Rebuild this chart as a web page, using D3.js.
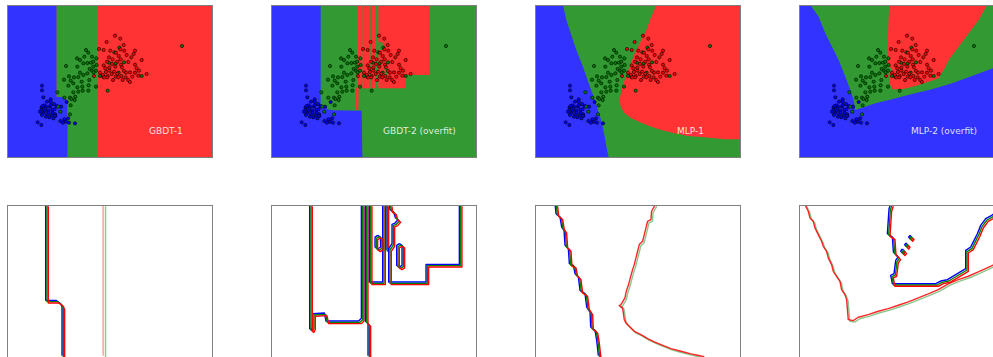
<!DOCTYPE html>
<html lang="en">
<head>
<meta charset="UTF-8">
<title>Decision boundaries: GBDT vs MLP</title>
<script src="https://d3js.org/d3.v7.min.js"></script>
<style>
  body { margin: 0; background: #fff; }
  .frame { fill: none; stroke: #808080; stroke-width: 1; }
  .label { font-family: "DejaVu Sans", sans-serif; font-size: 9px; fill: #fff; fill-opacity: 0.85; }
  .pt { stroke: #000; stroke-width: 0.6; }
  .contour { fill: none; stroke-width: 1.4; stroke-linejoin: round; }
</style>
</head>
<body>
<script>
// feature space: x 0..615, y 0..456 (same for every panel)
const xDomain = [0, 615];
const yDomain = [0, 456];

const models = ["GBDT-1", "GBDT-2 (overfit)", "MLP-1", "MLP-2 (overfit)"];
const labelX = [426, 336, 426, 336];
const labelY = 70;

// class index: 0 blue, 1 green, 2 red
const bluePoints = [
  [105,214],[105,200],[109,179],[131,173],[120,166],[131,166],[112,155],[104,149],[118,151],[129,151],
  [141,159],[103,141],[113,139],[124,139],[136,141],[143,144],[109,131],[121,129],[134,126],[144,128],
  [117,121],[127,119],[105,126],[92,104],[103,96],[160,108],[172,113],[168,103],[183,116],[177,106],
  [186,103],[204,101],[162,151],[149,153],[145,123],[139,116],[107,153],[115,145],[125,133],[137,133],
  [99,136],[131,155],[179,165]
];
const greenPoints = [
  [237,321],[244,313],[232,301],[255,301],[268,296],[210,296],[252,283],[241,282],[229,281],[259,286],
  [269,276],[177,273],[211,271],[248,264],[255,259],[267,259],[260,254],[219,253],[241,251],[229,246],
  [186,242],[214,240],[201,239],[171,232],[191,229],[224,226],[247,231],[199,221],[267,211],[245,215],
  [226,211],[211,209],[184,214],[214,196],[199,194],[227,199],[244,199],[151,194],[189,178],[205,181],
  [172,178],[203,171],[193,174],[191,155],[189,128],[154,151],[160,136],[525,333],[337,328],[322,314],
  [326,281],[351,284],[302,199],[279,243],[335,253],[404,243],[289,241],[306,283],[219,291],[259,271]
];
const redPoints = [
  [324,364],[340,355],[299,345],[350,336],[276,324],[290,321],[310,319],[340,323],[352,319],[384,319],
  [327,313],[359,306],[380,309],[335,303],[306,299],[317,293],[341,293],[373,299],[331,286],[300,286],
  [364,285],[384,277],[404,291],[315,279],[325,271],[290,275],[307,268],[342,277],[389,266],[369,254],
  [396,259],[307,259],[321,256],[351,258],[297,255],[288,246],[302,243],[331,250],[357,253],[419,249],
  [291,239],[326,241],[343,243],[356,239],[376,241],[394,244],[364,231],[347,231],[369,225],[301,239],
  [318,231],[261,243],[384,253],[279,253],[295,266],[314,249],[345,269],[334,239]
];

// predicted regions, painted over a background class
const backgroundClass = [2, 1, 1, 0];
const gbdt1Regions = [
  { cls: 0, pts: [[0,456],[149,456],[149,181],[174,179],[182,169],[182,0],[0,0]] },
  { cls: 1, pts: [[149,456],[271,456],[271,0],[182,0],[182,169],[174,179],[149,181]] }
];
const gbdt2Regions = [
  { cls: 0, pts: [[0,456],[149,456],[149,153],[165,153],[169,143],[184,140],[272,139],[274,0],[0,0]] },
  { cls: 2, pts: [[259,456],[270,456],[270,209],[263,205],[262,141],[255,141],[255,205],[259,209]] },
  { cls: 2, pts: [[274,456],[295,456],[295,206],[274,206]] },
  { cls: 2, pts: [[299,456],[312,456],[312,206],[299,206]] },
  { cls: 2, pts: [[322,456],[476,456],[476,246],[404,246],[404,206],[322,206]] },
  { cls: 1, pts: [[322,346],[335,343],[337,321],[322,321]] },
  { cls: 1, pts: [[341,281],[351,281],[351,246],[341,246]] }
];
const mlp1Regions = [
  { cls: 0, pts: [[0,456],[84,456],[94,411],[107,371],[124,321],[144,271],[161,221],[176,181],[189,141],
                  [201,101],[209,61],[216,21],[221,0],[0,0]] },
  { cls: 2, pts: [[364,456],[615,456],[615,53],[569,53],[509,59],[459,63],[419,71],[379,81],[349,91],
                  [319,103],[289,116],[269,131],[257,151],[254,171],[259,201],[269,231],[284,271],
                  [299,311],[319,351],[334,381],[349,421]] }
];
const mlp2Regions = [
  { cls: 1, pts: [[34,456],[615,456],[615,276],[582,266],[519,243],[459,221],[399,203],[339,189],[279,173],
                  [229,161],[169,141],[164,171],[154,201],[139,241],[119,291],[99,331],[79,371],[59,421]] },
  { cls: 2, pts: [[271,456],[564,456],[539,411],[509,371],[479,331],[449,291],[434,261],[419,236],[389,226],
                  [349,213],[309,203],[279,203],[272,221],[269,251],[281,261],[267,276],[264,321],
                  [267,371],[269,421]] }
];

// boundary contours for the lower row; kind picks the stroke set
const gbdt1Lines = [
  { kind: "triple", pts: [[120,456],[120,166],[151,166],[165,156],[169,146],[169,0]] },
  { kind: "pale", pts: [[292,456],[292,0]] }
];
const gbdt2Lines = [
  { kind: "triple", pts: [[120,456],[120,81],[125,78],[129,86],[129,126],[164,128],[169,104],[267,104],[275,112],[275,456]] },
  { kind: "triple", pts: [[287,456],[287,104],[295,96],[295,0]] },
  { kind: "triple", pts: [[299,456],[299,221],[339,221],[339,456]] },
  { kind: "triple", pts: [[349,456],[349,316]] },
  { kind: "triple", pts: [[569,456],[569,274],[469,274],[469,221],[357,221],[357,321],[367,336],[367,394],
                          [376,398],[385,408],[377,414],[372,431],[361,438],[359,456]] },
  { kind: "triple", pts: [[324,361],[332,356],[333,326],[324,320],[316,326],[316,356],[324,361]] },
  { kind: "triple", pts: [[389,336],[397,331],[397,271],[389,266],[381,271],[381,331],[389,336]] }
];
const mlp1Lines = [
  { kind: "triple", pts: [[64,456],[67,426],[79,416],[84,386],[91,376],[94,331],[104,321],[107,276],[119,271],
                          [124,246],[134,236],[139,196],[154,186],[159,146],[169,131],[171,86],[184,76],[189,46],[194,0]] },
  { kind: "pair", pts: [[362,456],[351,436],[349,411],[339,406],[334,386],[329,366],[324,346],[314,336],[309,316],
                        [304,296],[299,276],[294,261],[287,236],[282,216],[275,196],[271,176],[259,156],[254,153],
                        [264,146],[269,111],[274,101],[289,86],[299,76],[319,66],[339,54],[359,44],[379,36],
                        [409,24],[439,16],[469,8],[489,4],[509,0]] }
];
const mlp2Lines = [
  { kind: "pair", pts: [[19,456],[29,436],[34,416],[44,406],[49,386],[59,366],[69,346],[74,331],[84,316],[89,296],
                        [99,276],[104,256],[114,241],[124,226],[129,201],[139,186],[144,171],[149,111],[164,108],
                        [179,118],[209,126],[239,136],[269,144],[299,154],[329,164],[359,176],[389,188],[419,201],
                        [449,218],[479,231],[509,241],[539,254],[582,274],[615,286]] },
  { kind: "triple", pts: [[279,456],[274,441],[269,366],[284,356],[287,311],[301,296],[294,286],[289,246],[279,241],
                          [284,216],[414,216],[429,224],[449,228],[504,261],[504,316],[519,326],[529,346],[539,366],
                          [549,391],[564,411],[582,421],[615,446]] },
  { kind: "triple", pts: [[337,361],[341,356],[337,351],[333,356],[337,361]] },
  { kind: "triple", pts: [[325,338],[329,333],[325,328],[321,333],[325,338]] },
  { kind: "triple", pts: [[314,320],[319,314],[314,308],[309,314],[314,320]] }
];

const allRegions = [gbdt1Regions, gbdt2Regions, mlp1Regions, mlp2Regions];
const allLines = [gbdt1Lines, gbdt2Lines, mlp1Lines, mlp2Lines];

// ---- drawing ----
const W = 993, H = 357;
const panelW = 205, panelH = 152;
const panelLeft = [7, 271, 535, 799];
const rowTop = [5, 205];

const regionColors = ["rgb(51,51,255)", "rgb(51,153,51)", "rgb(255,51,51)"];
const pointColors = ["#0000ff", "#008000", "#ff0000"];
const strokeSets = {
  triple: [["#0000ff", -1.3, 1], ["#008000", 0, 1], ["#ff0000", 1.3, 1]],
  pair: [["#008000", 1.1, 0.45], ["#ff0000", -0.4, 0.85]],
  pale: [["#ff0000", -1.2, 0.4], ["#008000", 1.2, 0.45]]
};

const x = d3.scaleLinear().domain(xDomain).range([0, panelW]);
const y = d3.scaleLinear().domain(yDomain).range([panelH, 0]);
const line = d3.line().x(d => x(d[0])).y(d => y(d[1]));

const svg = d3.select("body").append("svg")
  .attr("width", W)
  .attr("height", H);

svg.append("defs").append("clipPath")
  .attr("id", "panel-clip")
  .append("rect")
  .attr("width", panelW)
  .attr("height", panelH);

models.forEach((name, i) => {
  // top row: regions + points
  const top = svg.append("g")
    .attr("transform", `translate(${panelLeft[i]},${rowTop[0]})`);
  const inner = top.append("g").attr("clip-path", "url(#panel-clip)");

  inner.append("rect")
    .attr("width", panelW)
    .attr("height", panelH)
    .attr("fill", regionColors[backgroundClass[i]]);

  inner.selectAll("path.region")
    .data(allRegions[i])
    .join("path")
    .attr("class", "region")
    .attr("d", d => line(d.pts) + "Z")
    .attr("fill", d => regionColors[d.cls]);

  [bluePoints, greenPoints, redPoints].forEach((pts, c) => {
    inner.selectAll(null)
      .data(pts)
      .join("circle")
      .attr("class", "pt")
      .attr("cx", d => x(d[0]))
      .attr("cy", d => y(d[1]))
      .attr("r", 1.6)
      .attr("fill", pointColors[c]);
  });

  top.append("text")
    .attr("class", "label")
    .attr("x", x(labelX[i]))
    .attr("y", y(labelY))
    .text(name);

  top.append("rect")
    .attr("class", "frame")
    .attr("x", 0.5)
    .attr("y", 0.5)
    .attr("width", panelW)
    .attr("height", panelH);

  // bottom row: boundary contours
  const bot = svg.append("g")
    .attr("transform", `translate(${panelLeft[i]},${rowTop[1]})`);
  const binner = bot.append("g").attr("clip-path", "url(#panel-clip)");

  allLines[i].forEach(c => {
    strokeSets[c.kind].forEach(([col, off, op]) => {
      binner.append("path")
        .attr("class", "contour")
        .attr("transform", `translate(${off},${off})`)
        .attr("d", line(c.pts))
        .attr("stroke", col)
        .attr("stroke-opacity", op);
    });
  });

  bot.append("rect")
    .attr("class", "frame")
    .attr("x", 0.5)
    .attr("y", 0.5)
    .attr("width", panelW)
    .attr("height", panelH);
});
</script>
</body>
</html>
